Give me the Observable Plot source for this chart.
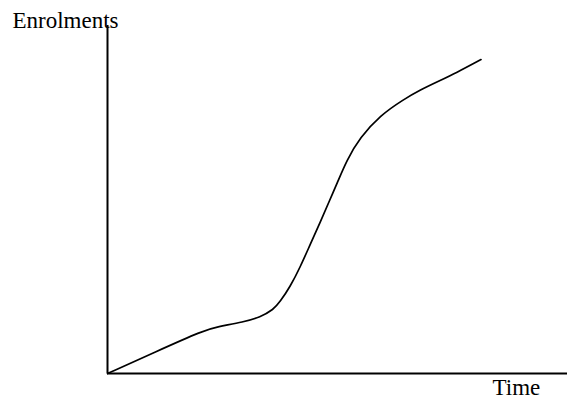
<!DOCTYPE html>
<html>
<head>
<meta charset="utf-8">
<script src="https://cdn.jsdelivr.net/npm/d3@7"></script>
<script src="https://cdn.jsdelivr.net/npm/@observablehq/plot@0.6"></script>
<style>
  body { margin: 0; background: #fff; }
</style>
</head>
<body>
<div id="chart"></div>
<script>
// time (arbitrary units, 0-100) and enrolments (0-100)
const time = [0, 10.4, 20.9, 23.8, 29.6, 33.2, 36.1, 37.5, 39.7, 41.9, 44.1, 46.3, 48.3, 49.9, 52.0, 54.9, 59.3, 64.3, 68.0, 72.0, 75.7, 81.2];
const enrolments = [0, 6.2, 12.4, 13.4, 14.8, 16.2, 18.4, 20.6, 24.9, 30.6, 37.2, 43.6, 49.8, 54.6, 61.3, 67.8, 74.2, 78.7, 81.5, 84.0, 86.3, 90.2];
const yLabel = ["Enrolments"];
const xLabel = ["Time"];

const data = time.map((t, i) => ({time: t, enrolments: enrolments[i]}));

const chart = Plot.plot({
  width: 567,
  height: 400,
  marginLeft: 107,
  marginRight: 0,
  marginTop: 25,
  marginBottom: 27,
  style: {fontFamily: "'Liberation Serif', 'Times New Roman', serif", background: "#fff"},
  x: {axis: null, domain: [0, 100]},
  y: {axis: null, domain: [0, 100]},
  marks: [
    Plot.ruleX([0], {stroke: "#000", strokeWidth: 2}),
    Plot.ruleY([0], {stroke: "#000", strokeWidth: 2}),
    Plot.line(data, {x: "time", y: "enrolments", curve: "basis", stroke: "#000", strokeWidth: 1.7}),
    Plot.text(yLabel, {text: d => d, frameAnchor: "top-left", dx: -95, dy: -14, textAnchor: "start", fontSize: 23, fill: "#000"}),
    Plot.text(xLabel, {text: d => d, frameAnchor: "bottom-left", dx: 385, dy: 21, textAnchor: "start", fontSize: 23, fill: "#000"})
  ]
});

d3.select("#chart").append(() => chart);
</script>
</body>
</html>
